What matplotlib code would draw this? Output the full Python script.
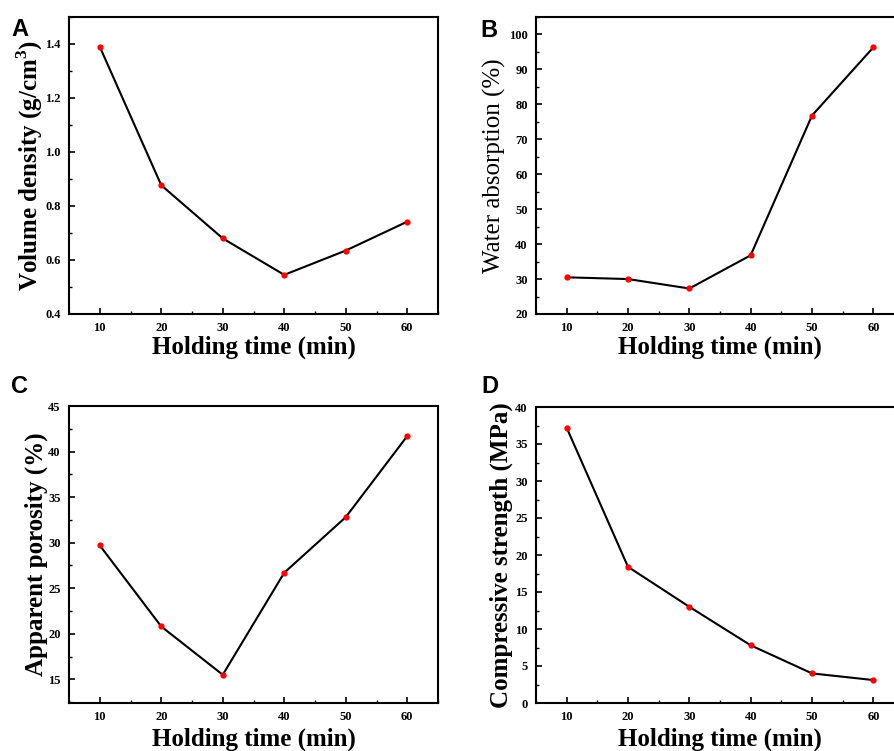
import matplotlib
matplotlib.use("Agg")
import matplotlib.pyplot as plt
from matplotlib.ticker import MultipleLocator, FuncFormatter

plt.rcParams["font.family"] = "Liberation Serif"
plt.rcParams["mathtext.fontset"] = "custom"
plt.rcParams["mathtext.rm"] = "Liberation Serif:bold"
plt.rcParams["mathtext.bf"] = "Liberation Serif:bold"

holding_time = [10, 20, 30, 40, 50, 60]
volume_density = [1.39, 0.877, 0.68, 0.545, 0.635, 0.742]
water_absorption = [30.5, 30.0, 27.3, 36.8, 76.8, 96.3]
apparent_porosity = [29.7, 20.8, 15.5, 26.7, 32.8, 41.7]
compressive_strength = [37.2, 18.4, 13.0, 7.8, 4.0, 3.1]

W, H = 894, 751
fig = plt.figure(figsize=(W / 100, H / 100), dpi=100)


def make_axes(left, top, right, bottom):
    return fig.add_axes([left / W, 1 - bottom / H, (right - left) / W, (bottom - top) / H])


panels = [
    dict(box=(69, 17, 438, 314), y=volume_density, ylim=(0.4, 1.5), major=0.2, minor=0.1,
         ylabel="Volume density (g/cm$^3$)", bold=True, fmt="{:.1f}", tag="A", tagpos=(11, 36),
         ylx=21, xpad=1),
    dict(box=(536, 17, 904, 314), y=water_absorption, ylim=(20, 105), major=10, minor=5,
         ylabel="Water absorption (%)", bold=False, fmt="{:.0f}", tag="B", tagpos=(480, 37),
         ylx=482, xpad=1),
    dict(box=(69, 406, 438, 703), y=apparent_porosity, ylim=(12.4, 45), major=5, minor=2.5,
         ylabel="Apparent porosity (%)", bold=True, fmt="{:.0f}", tag="C", tagpos=(11, 393),
         ylx=24, xpad=3),
    dict(box=(536, 407, 904, 703), y=compressive_strength, ylim=(0, 40), major=5, minor=2.5,
         ylabel="Compressive strength (MPa)", bold=True, fmt="{:.0f}", tag="D", tagpos=(481, 393),
         ylx=489, xpad=3),
]

for p in panels:
    ax = make_axes(*p["box"])
    ax.plot(holding_time, p["y"], color="black", lw=1.5, zorder=2)
    ax.plot(holding_time, p["y"], "o", color="red", ms=3.5, mec="red", zorder=3)
    ax.set_xlim(5, 65)
    ax.set_xticks(holding_time)
    ax.xaxis.set_minor_locator(MultipleLocator(5))
    ax.yaxis.set_major_locator(MultipleLocator(p["major"]))
    ax.yaxis.set_minor_locator(MultipleLocator(p["minor"]))
    ax.set_ylim(*p["ylim"])
    ax.yaxis.set_major_formatter(FuncFormatter(lambda v, pos, f=p["fmt"]: f.format(v)))
    ax.tick_params(which="major", direction="in", length=4, width=1.2, labelsize=9, pad=6)
    ax.tick_params(which="minor", direction="in", length=2, width=1.0)
    for lab in ax.get_xticklabels() + ax.get_yticklabels():
        lab.set_fontweight("bold")
    for s in ax.spines.values():
        s.set_linewidth(1.5)
    ax.set_xlabel("Holding time (min)", fontsize=18, fontweight="bold", labelpad=p["xpad"])
    ax.set_ylabel(p["ylabel"], fontsize=18, fontweight="bold" if p["bold"] else "normal")
    # left edge of the rotated label, given in pixels, converted to axes coordinates
    left, top, right, bottom = p["box"]
    ax.yaxis.set_label_coords((p["ylx"] + 24 - left) / (right - left), 0.5)
    fig.text(p["tagpos"][0] / W, 1 - p["tagpos"][1] / H, p["tag"], fontsize=17,
             fontweight="bold", family="Liberation Sans", ha="left", va="baseline")

fig.savefig("out.png", dpi=100)
